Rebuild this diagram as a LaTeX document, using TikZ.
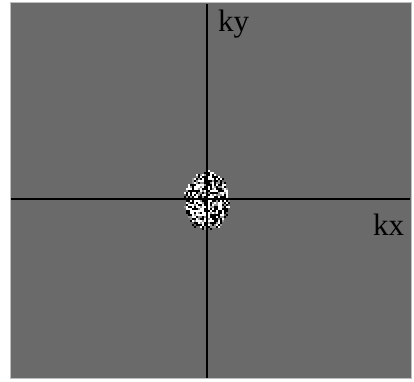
\documentclass[tikz,border=0pt]{standalone}
\usepackage{fontspec}
\setmainfont{Liberation Serif}
\definecolor{panelgray}{RGB}{106,106,106}
\definecolor{edgegray}{RGB}{190,190,190}
\definecolor{midgray}{RGB}{150,150,150}
\tikzset{
  axisline/.style={draw=black, line width=1.6pt},
  axislabel/.style={font=\fontsize{31}{31}\selectfont, text=black, inner sep=0pt},
}
\begin{document}
\begin{tikzpicture}[x=1pt,y=-1pt]
\useasboundingbox (0,0) rectangle (414,381);
\fill[white] (0,0) rectangle (414,381);
\filldraw[fill=panelgray, draw=edgegray, line width=0.8pt] (10,2) rectangle (411,378);
% noisy blob
\pgfmathsetseed{11}
\foreach \i in {-11,...,11} {
  \foreach \j in {-15,...,15} {
    \pgfmathparse{(\i/11.2)^2+(\j/14.6)^2+0.25*rnd}
    \ifdim\pgfmathresult pt<1.1pt
      \pgfmathrandominteger{\r}{0}{4}
      \ifcase\r
        \fill[white] (207+2*\i-1,201+2*\j-1) rectangle ++(2,2);
      \or
        \fill[black] (207+2*\i-1,201+2*\j-1) rectangle ++(2,2);
      \or
        \fill[white] (207+2*\i-1,201+2*\j-1) rectangle ++(2,2);
      \or
        \fill[black] (207+2*\i-1,201+2*\j-1) rectangle ++(2,2);
      \or
        \fill[midgray] (207+2*\i-1,201+2*\j-1) rectangle ++(2,2);
      \fi
    \fi
  }
}
\coordinate (ytop) at (207,4);
\coordinate (ybot) at (207,378);
\coordinate (xleft) at (11,199);
\coordinate (xright) at (410,199);
\draw[axisline] (ytop) -- (ybot);
\draw[axisline] (xleft) -- (xright);
\node[axislabel, anchor=base west] (ky) at (218,31) {ky};
\node[axislabel, anchor=base west] (kx) at (373,235) {kx};
\end{tikzpicture}
\end{document}
